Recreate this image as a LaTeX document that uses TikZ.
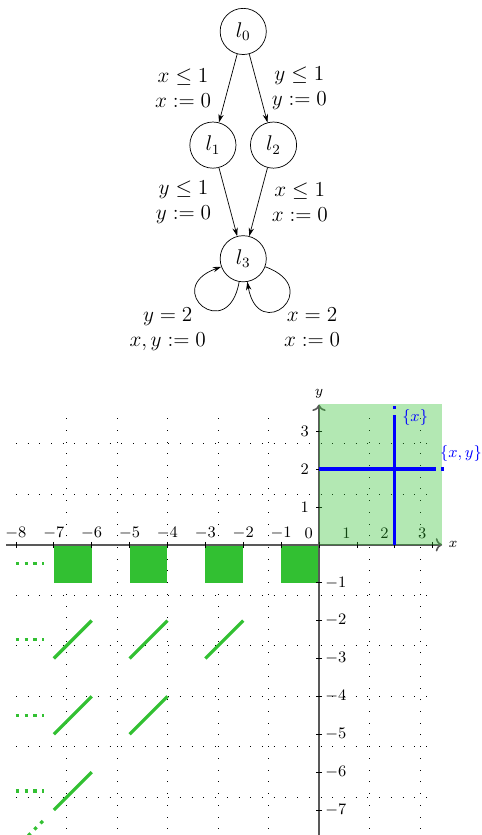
\documentclass[tikz,border=0pt]{standalone}
\usepackage{tikz}
\usetikzlibrary{arrows.meta,positioning}
\definecolor{zone}{RGB}{50,192,50}

\begin{document}
\begin{tikzpicture}[
  x=0.75cm,y=0.75cm,
  loc/.style={draw,circle,minimum size=26pt,inner sep=0pt,font=\large},
  edge/.style={-{Stealth[length=4.7pt,width=3pt]}},
  lbl/.style={align=center,font=\large},
  griddots/.style={dash pattern=on 0.4pt off 6.2pt},
  zoneline/.style={zone,line width=1.8pt},
  zonedots/.style={zoneline,dash pattern=on 1.8pt off 3.1pt},
  axis/.style={->,black!65,line width=0.9pt},
  tickmark/.style={black,line width=0.4pt},
  ticklbl/.style={font=\small},
  clock/.style={blue,line width=1.8pt},
  clockdots/.style={clock,dash pattern=on 1.8pt off 3.1pt},
]
  \useasboundingbox (-8.42,-7.66) rectangle (4.3,14.38);

  % automaton
  \node[loc] (l0) at (-2,13.55) {$l_0$};
  \node[loc,on grid,below left=2.25cm and 0.6cm of l0] (l1) {$l_1$};
  \node[loc,on grid,below right=2.25cm and 0.6cm of l0] (l2) {$l_2$};
  \node[loc,on grid,below=4.5cm of l0] (l3) {$l_3$};

  \draw[edge] (l0) -- node[lbl,left=6pt] (g01) {$x \leq 1$\\$x := 0$} (l1);
  \draw[edge] (l0) -- node[lbl,right=4pt] (g02) {$y \leq 1$\\$y := 0$} (l2);
  \draw[edge] (l1) -- node[lbl,left=6pt] (g13) {$y \leq 1$\\$y := 0$} (l3);
  \draw[edge] (l2) -- node[lbl,right=4pt] (g23) {$x \leq 1$\\$x := 0$} (l3);
  \draw[edge] (l3) to[out=-100,in=-160,looseness=7]
    node[lbl,below left=-2.5pt and -5pt] (g33a) {$y = 2$\\$x, y := 0$} (l3);
  \draw[edge] (l3) to[out=-20,in=-80,looseness=7]
    node[lbl,below right=-2.5pt and -3pt] (g33b) {$x = 2$\\$x := 0$} (l3);

  % regions
  \draw[griddots] (-8,-7.5) grid (3,3.5);
  \foreach \a in {-7,-5,-3,-1}
    \fill[zone] (\a,0) rectangle ++(1,-1);
  \foreach \a/\b in {-7/-3,-5/-3,-3/-3,-7/-5,-5/-5,-7/-7}
    \draw[zoneline] (\a,\b) -- ++(1,1);
  \foreach \r in {-0.5,-2.5,-4.5,-6.5}
    \draw[zonedots] (-8,\r) -- (-7.25,\r);
  \draw[zonedots] (-8,-8) -- (-7.25,-7.25);

  % axes
  \draw[axis] (-8.25,0) -- (3.25,0) node[right,font=\footnotesize,black] (xlab) {$x$};
  \draw[axis] (0,-7.75) -- (0,3.7) node[above,font=\footnotesize,black] (ylab) {$y$};
  \foreach \x in {-8,...,3}
    \draw[tickmark] (\x,0.08) -- (\x,-0.08);
  \foreach \y in {-7,-6,-5,-4,-3,-2,-1,1,2,3}
    \draw[tickmark] (0.08,\y) -- (-0.08,\y);
  \foreach \x in {-8,...,-1}
    \node[ticklbl,above] (tx\x) at (\x,0) {$\x$};
  \foreach \x in {0,...,3}
    \node[ticklbl,above left] (tx\x) at (\x,0) {$\x$};
  \foreach \y in {1,2,3}
    \node[ticklbl,left] (ty\y) at (-0.1,\y) {$\y$};
  \foreach \y in {-7,...,-1}
    \node[ticklbl,right] (ty\y) at (0,\y) {$\y$};

  \fill[zone,fill opacity=0.37] (0,0) rectangle (3.25,3.72);

  % resets
  \draw[clock] (2,0) -- (2,3.35) node[right,font=\small] (rx) {$\{x\}$};
  \draw[clockdots] (2,3.35) -- (2,3.7);
  \draw[clock] (0,2) -- (3,2) node[above right,font=\small] (rxy) {$\{x, y\}$};
  \draw[clockdots] (3,2) -- (3.3,2);
\end{tikzpicture}
\end{document}
